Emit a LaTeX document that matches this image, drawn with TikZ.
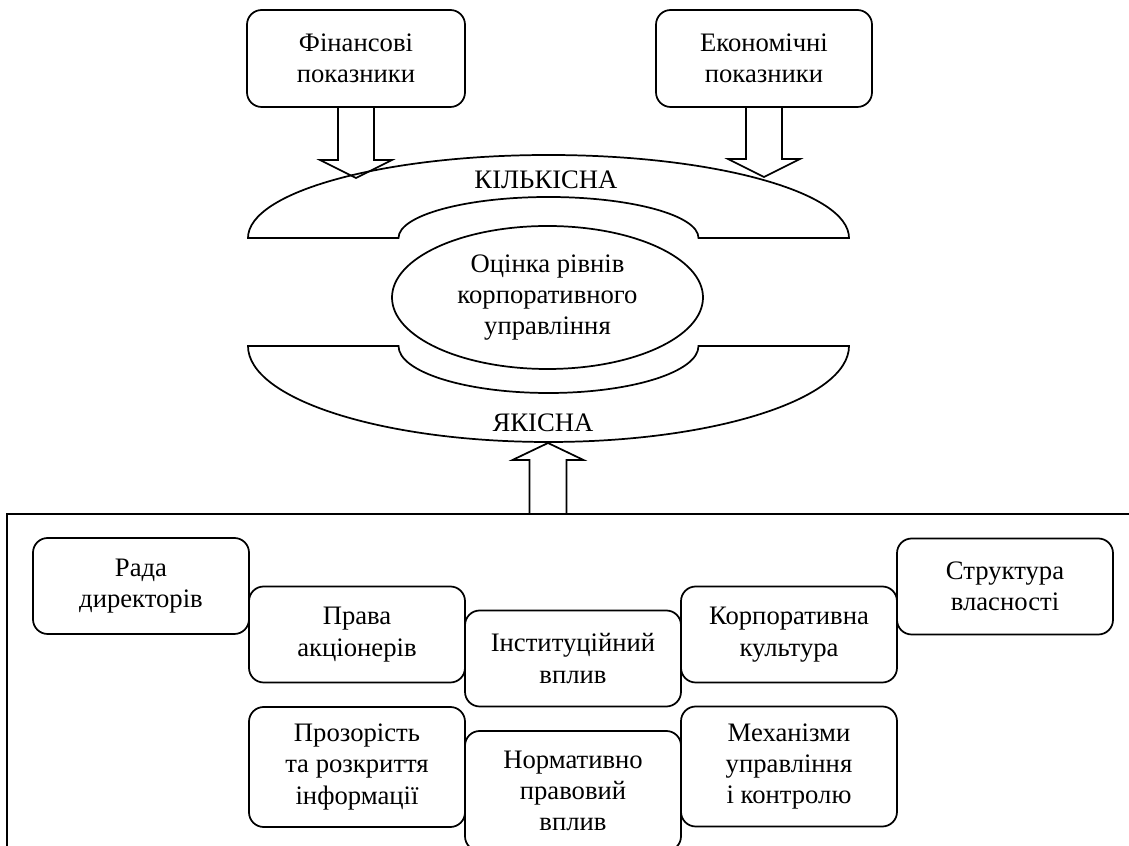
\documentclass[tikz,border=0pt]{standalone}
\usepackage{fontspec}
\setmainfont{Liberation Serif}
\usetikzlibrary{shapes.geometric,calc}
\begin{document}
\begin{tikzpicture}[x=0.75pt,y=0.75pt,
  line/.style={line width=1.3pt, line join=miter},
  box/.style={draw, line width=1.3pt, rounded corners=11pt, align=center, inner sep=0pt,
    minimum width=162pt, minimum height=72pt, font=\fontsize{20}{23.5}\selectfont},
  tallbox/.style={box, minimum height=90pt},
  oval/.style={ellipse, draw, line width=1.3pt, align=center, inner sep=0pt,
    minimum width=233.25pt, minimum height=107.25pt, font=\fontsize{20}{23.5}\selectfont},
  lbl/.style={inner sep=0pt, font=\fontsize{20}{23.5}\selectfont}
]
\useasboundingbox (0,0) rectangle (1129,846);
\clip (0,0) rectangle (1129,846);

% top boxes
\node[box, minimum width=163.5pt, minimum height=72.75pt] (fin) at (356,787.5) {Фінансові\\показники};
\node[box, minimum height=72.75pt] (eko) at (764,787.5) {Економічні\\показники};

% upper arc (quantitative)
\draw[line] (248,608) arc[start angle=180, end angle=0, x radius=300.5, y radius=83]
  -- (698.5,608) arc[start angle=0, end angle=180, x radius=150, y radius=41] -- cycle;
\node[lbl] (kil) at (546,666) {КІЛЬКІСНА};

% central ellipse
\node[oval] (ocin) at (547.5,548.5) {Оцінка рівнів\\корпоративного\\управління};

% lower arc (qualitative)
\draw[line] (248,500) arc[start angle=180, end angle=360, x radius=300.5, y radius=96]
  -- (698.5,500) arc[start angle=0, end angle=-180, x radius=150, y radius=47] -- cycle;
\node[lbl] (yak) at (543,423) {ЯКІСНА};

% block arrows down
\coordinate (tipF) at (356,668);
\coordinate (tipE) at (764,669);
\draw[line] ($(fin.south)+(-18,0)$) -- ($(tipF)+(-18,18)$) -- ($(tipF)+(-36,18)$) -- (tipF)
  -- ($(tipF)+(36,18)$) -- ($(tipF)+(18,18)$) -- ($(fin.south)+(18,0)$);
\draw[line] ($(eko.south)+(-18,0)$) -- ($(tipE)+(-18,18)$) -- ($(tipE)+(-36,18)$) -- (tipE)
  -- ($(tipE)+(36,18)$) -- ($(tipE)+(18,18)$) -- ($(eko.south)+(18,0)$);

% frame
\coordinate (frTL) at (7,332);
\coordinate (frBR) at (1145,-30);
\draw[line] (frTL) rectangle (frBR);

% block arrow up
\coordinate (fb) at (548,332);
\coordinate (tipY) at (548,403);
\draw[line] ($(fb)+(-18.5,0)$) -- ($(tipY)+(-18.5,-17)$) -- ($(tipY)+(-35.5,-17)$) -- (tipY)
  -- ($(tipY)+(35.5,-17)$) -- ($(tipY)+(18.5,-17)$) -- ($(fb)+(18.5,0)$);

% factor boxes
\node[box] (rada) at (141,260) {Рада\\директорів};
\node[box] (prava) at (357,211.5) {Права\\акціонерів};
\node[box] (inst) at (573,187.5) {Інституційний\\вплив};
\node[box] (korp) at (789,211.5) {Корпоративна\\культура};
\node[box] (strukt) at (1005,259.5) {Структура\\власності};
\node[tallbox] (proz) at (357,79) {Прозорість\\та розкриття\\інформації};
\node[tallbox] (norm) at (573,55) {Нормативно\\правовий\\вплив};
\node[tallbox] (mech) at (789,79.5) {Механізми\\управління\\і контролю};
\end{tikzpicture}
\end{document}
